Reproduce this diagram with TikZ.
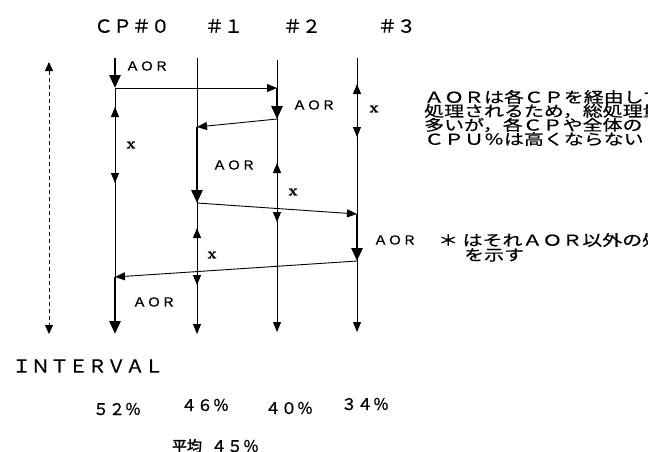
\documentclass[tikz,border=0pt]{standalone}
\usepackage{fontspec}
\usetikzlibrary{arrows.meta}
\newfontfamily\jpHead[FakeStretch=1.05,FakeBold=0.8]{Noto Sans CJK JP}
\newfontfamily\jpBody[FakeStretch=1.33,FakeBold=0.6]{Noto Sans CJK JP}
\newfontfamily\jpLab[FakeStretch=1.15,FakeBold=0.9]{Noto Sans CJK JP}
\newfontfamily\jpPlain[FakeStretch=1.0,FakeBold=0.9]{Noto Sans CJK JP}
\newfontfamily\jpHeavy[FakeBold=2]{Noto Sans CJK JP}
\newfontfamily\markfont[FakeBold=1.5]{Latin Modern Roman}
\begin{document}
\begin{tikzpicture}[x=1pt,y=-1pt,
  timeline/.style={line width=0.9pt},
  tlend/.style={timeline,-{Triangle[length=10pt,width=8pt]}},
  aor/.style={line width=2.8pt,-{Triangle[length=13pt,width=11pt]}},
  msg/.style={line width=0.9pt,-{Triangle[length=10pt,width=8pt]}},
  busy/.style={line width=0.9pt,{Triangle[length=10pt,width=8pt]}-{Triangle[length=10pt,width=8pt]}},
  span/.style={line width=0.9pt,dash pattern=on 4pt off 3pt,
    {Triangle[length=9pt,width=8pt]}-{Triangle[length=9pt,width=8pt]}},
  head/.style={inner sep=0pt,font=\fontsize{18}{18}\jpHead},
  aorlbl/.style={inner sep=0pt,font=\fontsize{12.5}{12.5}\jpLab},
  starlbl/.style={inner sep=0pt,font=\fontsize{15}{15}\markfont\bfseries},
  note/.style={inner sep=0pt,anchor=west,font=\fontsize{15}{15}\jpBody},
  pct/.style={inner sep=0pt,font=\fontsize{16}{16}\jpPlain},
]
\useasboundingbox (0,0) rectangle (648,451);
\clip (0,0) rectangle (648,451);

% column headers
\node[head] (h0) at (132,26) {ＣＰ＃０};
\node[head] (h1) at (224,26) {＃１};
\node[head] (h2) at (302,26) {＃２};
\node[head] (h3) at (397,26) {＃３};

% timeline ends
\coordinate (t0) at (115,58);  \coordinate (b0) at (115,334);
\coordinate (t1) at (197,58);  \coordinate (b1) at (197,334);
\coordinate (t2) at (277,60);  \coordinate (b2) at (277,332);
\coordinate (t3) at (357,58);  \coordinate (b3) at (357,332);

% hand-over points
\coordinate (e0a) at (115,88);
\coordinate (e2a) at (277,88);
\coordinate (e2b) at (277,119);
\coordinate (e1a) at (197,127);
\coordinate (e1b) at (197,203);
\coordinate (e3a) at (357,214);
\coordinate (e3b) at (357,261);
\coordinate (e0b) at (115,277);

% other-work spans
\coordinate (s0t) at (115,107); \coordinate (s0b) at (115,183);
\coordinate (s1t) at (197,228); \coordinate (s1b) at (197,285);
\coordinate (s2t) at (277,163); \coordinate (s2b) at (277,222);
\coordinate (s3t) at (357,84);  \coordinate (s3b) at (357,137);

% interval
\coordinate (it) at (49,62); \coordinate (ib) at (49,334);
\draw[span] (it) -- (ib);

% timelines
\draw[timeline] (e0a) -- (e0b);
\draw[tlend] (t1) -- (b1);
\draw[tlend] (t2) -- (b2);
\draw[tlend] (t3) -- (b3);

% other-work arrows
\draw[busy] (s0t) -- (s0b);
\draw[busy] (s1t) -- (s1b);
\draw[busy] (s2t) -- (s2b);
\draw[busy] (s3t) -- (s3b);

% messages between CPs
\draw[msg] (e0a) -- (e2a);
\draw[msg] (e2b) -- (e1a);
\draw[msg] (e1b) -- (e3a);
\draw[msg] (e3b) -- (e0b);

% AOR processing
\draw[aor] (t0) -- (e0a);
\draw[aor] (e2a) -- (e2b);
\draw[aor] (e1a) -- (e1b);
\draw[aor] (e3a) -- (e3b);
\draw[aor] (e0b) -- (b0);

\node[aorlbl] (a1) at (147,66) {ＡＯＲ};
\node[aorlbl] (a2) at (314,105) {ＡＯＲ};
\node[aorlbl] (a3) at (234,165) {ＡＯＲ};
\node[aorlbl] (a4) at (395,240) {ＡＯＲ};
\node[aorlbl] (a5) at (154,302) {ＡＯＲ};

\node[starlbl] (x0) at (131,145) {x};
\node[starlbl] (x1) at (212,255) {x};
\node[starlbl] (x2) at (293,192) {x};
\node[starlbl] (x3) at (374,109) {x};

% notes
\node[note] (n1) at (424,97) {ＡＯＲは各ＣＰを経由して};
\node[note] (n2) at (424,111) {処理されるため，総処理量が};
\node[note] (n3) at (424,125) {多いが，各ＣＰや全体の};
\node[note] (n4) at (424,139) {ＣＰＵ％は高くならない};
\node[note] (n5) at (438,240) {＊ はそれＡＯＲ以外の処理};
\node[note] (n6) at (464,255) {を示す};

% results
\node[head,anchor=west] (iv) at (12,366) {ＩＮＴＥＲＶＡＬ};
\node[pct] (p0) at (117,409) {５２％};
\node[pct] (p1) at (205,405) {４６％};
\node[pct] (p2) at (289,408) {４０％};
\node[pct] (p3) at (365,404) {３４％};
\node[inner sep=0pt,font=\fontsize{15}{15}\jpHeavy] (avgk) at (187,446) {平均};
\node[pct] (avg) at (235,446) {４５％};
\end{tikzpicture}
\end{document}
